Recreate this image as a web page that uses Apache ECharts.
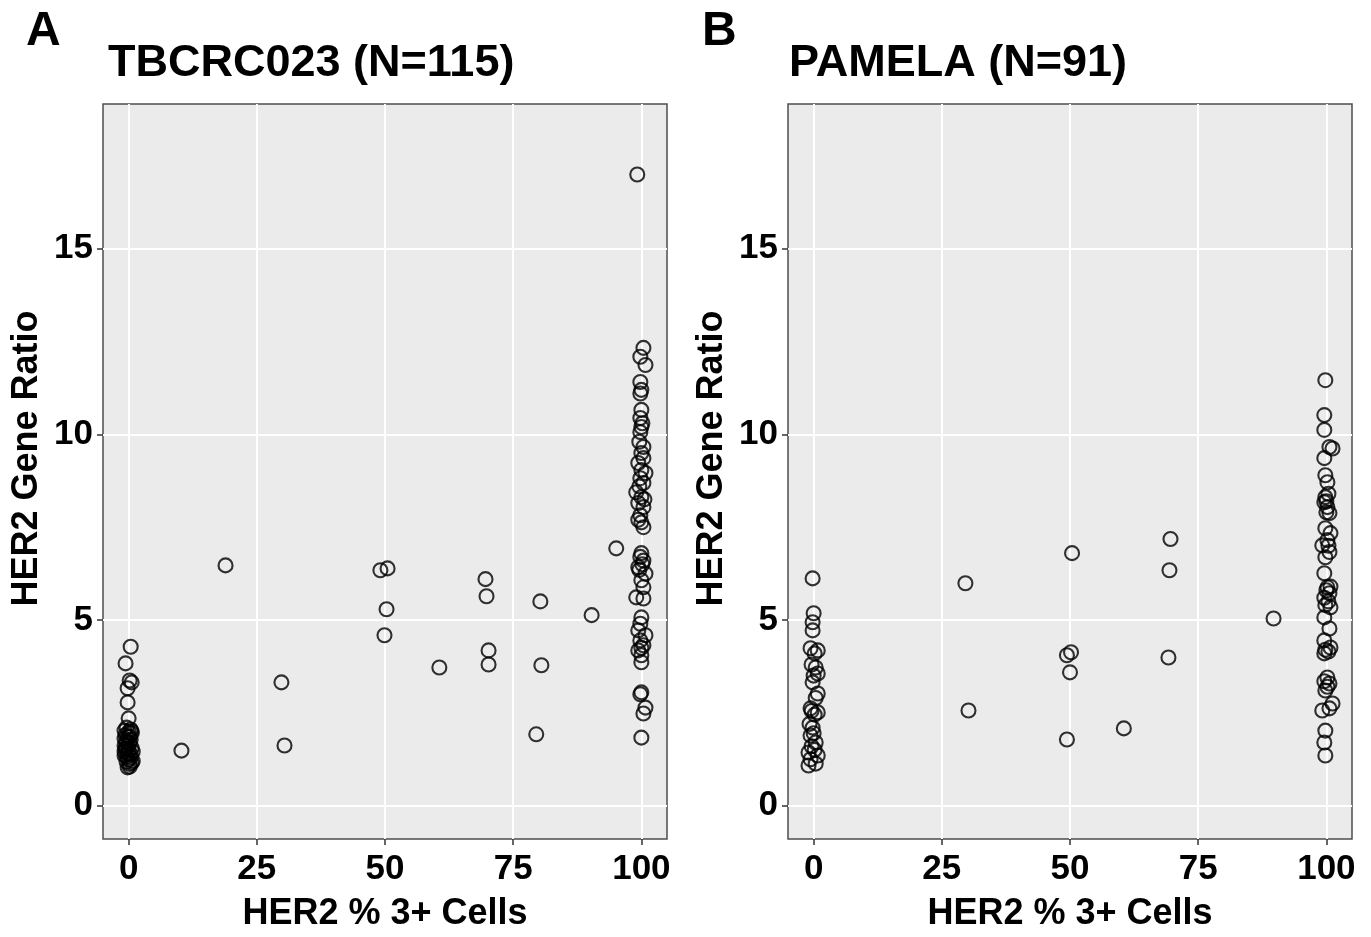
<!DOCTYPE html>
<html>
<head>
<meta charset="utf-8">
<title>HER2 gene ratio vs HER2 % 3+ cells</title>
<script src="https://cdn.jsdelivr.net/npm/echarts@6/dist/echarts.min.js"></script>
<style>
    html, body { margin: 0; padding: 0; background: #ffffff; }
    #chart { width: 1371px; height: 937px; }
</style>
</head>
<body>
<div id="chart"></div>
<script>
// tick labels shared by both panels
var xTicks = [0, 25, 50, 75, 100];
var yTicks = [0, 5, 10, 15];

// TBCRC023: [HER2 % 3+ cells (jittered), HER2 gene ratio]
var tbcrcZero = [
    [0.4, 4.28], [-0.6, 3.83], [0.2, 3.37], [0.6, 3.32], [-0.2, 3.16], [-0.2, 2.78], [0.0, 2.35],
    [-0.4, 2.10], [0.4, 2.05], [-0.8, 2.02], [0.0, 1.98], [0.6, 1.95], [-0.6, 1.90], [0.2, 1.85],
    [-0.8, 1.80], [0.4, 1.78], [-0.4, 1.72], [0.2, 1.68], [-0.8, 1.62], [-0.2, 1.60], [0.6, 1.55],
    [-0.6, 1.52], [0.0, 1.50], [-0.8, 1.45], [0.8, 1.45], [-0.2, 1.40], [0.4, 1.38], [-0.8, 1.35],
    [-0.4, 1.32], [0.4, 1.30], [0.0, 1.25], [0.8, 1.20], [-0.4, 1.18], [0.6, 1.15], [0.2, 1.12],
    [0.2, 1.05], [-0.2, 1.03], [-0.6, 1.55], [-0.2, 1.85], [0.6, 2.00]
];
var tbcrcMid = [
    [18.9, 6.47], [10.3, 1.48], [29.8, 3.32], [30.4, 1.62], [49.1, 6.34], [50.5, 6.39],
    [50.3, 5.29], [49.9, 4.59], [60.6, 3.72], [69.6, 6.10], [69.8, 5.64], [70.2, 4.18],
    [70.2, 3.80], [80.3, 5.50], [80.5, 3.78], [79.5, 1.92], [90.3, 5.13], [95.1, 6.93]
];
var tbcrcFull = [
    [99.2, 17.0], [100.4, 12.33], [99.8, 12.09], [100.8, 11.87], [99.8, 11.41], [100.0, 11.2],
    [100.0, 10.66], [99.8, 10.44], [100.0, 10.2], [99.8, 10.06], [100.4, 9.66], [100.0, 9.5],
    [100.4, 9.36], [99.4, 9.23], [100.0, 9.04], [100.8, 8.96], [99.8, 8.82], [100.4, 8.69],
    [99.0, 8.44], [100.0, 8.31], [99.4, 8.15], [100.4, 8.04], [99.8, 7.82], [100.0, 7.63],
    [100.4, 7.5], [100.0, 6.8], [100.4, 6.6], [99.4, 6.42], [100.8, 6.25], [100.0, 6.07],
    [100.4, 5.88], [99.0, 5.61], [100.4, 5.58], [100.0, 5.07], [99.4, 4.72], [100.8, 4.59],
    [99.8, 4.45], [100.4, 4.32], [99.4, 4.18], [100.0, 4.05], [100.0, 3.86], [100.0, 3.05],
    [100.8, 2.64], [100.4, 2.48], [100.0, 1.83], [99.8, 11.1], [100.2, 10.3], [99.6, 9.8],
    [99.6, 8.6], [100.6, 8.25], [99.4, 7.7], [99.8, 6.7], [100.2, 6.5], [99.6, 6.35],
    [99.8, 4.9], [100.0, 4.25], [99.8, 3.0]
];

// PAMELA
var pamelaZero = [
    [-0.2, 6.12], [0.0, 5.18], [-0.2, 4.94], [-0.2, 4.72], [-0.6, 4.24], [0.8, 4.18], [0.4, 3.72],
    [0.8, 3.56], [-0.2, 3.32], [0.8, 3.02], [-0.6, 2.62], [0.8, 2.51], [-0.2, 2.1], [-0.6, 1.89],
    [0.4, 1.7], [-1.0, 1.43], [0.8, 1.35], [-1.0, 1.08], [0.4, 1.13], [0.2, 4.1], [-0.4, 3.8],
    [0.0, 3.5], [0.4, 2.9], [-0.4, 2.55], [0.2, 2.45], [-0.8, 2.2], [0.0, 1.95], [-0.4, 1.6],
    [0.2, 1.5], [-0.6, 1.25]
];
var pamelaMid = [
    [29.6, 5.99], [30.2, 2.56], [50.4, 6.80], [49.4, 4.05], [50.2, 4.13], [50.0, 3.59],
    [49.4, 1.78], [60.5, 2.08], [69.6, 7.18], [69.4, 6.34], [69.2, 3.99], [89.7, 5.04]
];
var pamelaFull = [
    [99.8, 11.46], [99.6, 10.52], [99.6, 10.12], [100.6, 9.66], [101.2, 9.62], [99.6, 9.36],
    [99.8, 8.9], [100.2, 8.71], [99.8, 8.31], [99.6, 8.17], [100.2, 8.04], [100.6, 7.88],
    [99.8, 7.47], [100.8, 7.34], [100.2, 7.15], [99.2, 7.01], [100.6, 6.83], [99.8, 6.69],
    [99.6, 6.26], [100.2, 5.88], [100.6, 5.72], [99.8, 5.40], [100.8, 5.34], [99.6, 5.07],
    [100.6, 4.77], [99.6, 4.45], [100.8, 4.26], [99.6, 4.1], [100.2, 3.45], [100.6, 3.29],
    [99.8, 3.1], [101.2, 2.75], [99.2, 2.56], [100.6, 2.62], [99.8, 2.02], [99.6, 1.70],
    [99.8, 1.35], [100.4, 8.4], [100.0, 8.2], [100.4, 7.0], [99.6, 5.6], [100.4, 5.5],
    [100.0, 5.8], [99.8, 4.2], [100.4, 4.15], [100.2, 3.2], [99.6, 3.35], [100.0, 7.9],
    [100.8, 5.9]
];

var dom = document.getElementById('chart');
var myChart = echarts.init(dom, null, { renderer: 'canvas' });

var font = 'Liberation Sans, Arial, sans-serif';

function makeX(idx) {
    return {
        gridIndex: idx,
        type: 'value',
        min: -5,
        max: 105,
        name: 'HER2 % 3+ Cells',
        nameLocation: 'middle',
        nameGap: 57,
        nameTextStyle: { fontFamily: font, fontWeight: 'bold', fontSize: 36, color: '#000' },
        axisLine: { show: false, onZero: false },
        axisTick: { show: true, length: 6, customValues: xTicks, lineStyle: { color: '#333', width: 1.5 } },
        axisLabel: { customValues: xTicks, margin: 13, fontFamily: font, fontWeight: 'bold', fontSize: 35, color: '#000' },
        splitLine: { show: true, lineStyle: { color: '#ffffff', width: 2 } }
    };
}

function makeY(idx) {
    return {
        gridIndex: idx,
        type: 'value',
        min: -0.9,
        max: 18.9,
        name: 'HER2 Gene Ratio',
        nameLocation: 'middle',
        nameGap: 58,
        // ggplot title sits a little above the panel centre
        nameTextStyle: { fontFamily: font, fontWeight: 'bold', fontSize: 36, color: '#000', padding: [0, 0, 0, 26] },
        axisLine: { show: false, onZero: false },
        axisTick: { show: true, length: 6, customValues: yTicks, lineStyle: { color: '#333', width: 1.5 } },
        axisLabel: { customValues: yTicks, margin: 10, fontFamily: font, fontWeight: 'bold', fontSize: 35, color: '#000' },
        splitLine: { show: true, lineStyle: { color: '#ffffff', width: 2 } }
    };
}

function points(idx, data) {
    return {
        type: 'scatter',
        xAxisIndex: idx,
        yAxisIndex: idx,
        symbol: 'circle',
        symbolSize: 14,
        itemStyle: { color: 'rgba(0,0,0,0)', borderColor: '#000', borderWidth: 2.1 },
        data: data
    };
}

var option = {
    backgroundColor: '#ffffff',
    animation: false,
    title: [
        { text: 'A', left: 21, top: 3, textStyle: { fontFamily: font, fontWeight: 'bold', fontSize: 48, color: '#000' } },
        { text: 'TBCRC023 (N=115)', left: 103, top: 36, textStyle: { fontFamily: font, fontWeight: 'bold', fontSize: 45, color: '#000' } },
        { text: 'B', left: 697, top: 3, textStyle: { fontFamily: font, fontWeight: 'bold', fontSize: 48, color: '#000' } },
        { text: 'PAMELA (N=91)', left: 784, top: 36, textStyle: { fontFamily: font, fontWeight: 'bold', fontSize: 45, color: '#000' } }
    ],
    grid: [
        { left: 103, top: 104, width: 564, height: 735, show: true, backgroundColor: '#EBEBEB', borderColor: '#4d4d4d', borderWidth: 1.5 },
        { left: 788, top: 104, width: 564, height: 735, show: true, backgroundColor: '#EBEBEB', borderColor: '#4d4d4d', borderWidth: 1.5 }
    ],
    xAxis: [makeX(0), makeX(1)],
    yAxis: [makeY(0), makeY(1)],
    series: [
        points(0, tbcrcZero.concat(tbcrcMid, tbcrcFull)),
        points(1, pamelaZero.concat(pamelaMid, pamelaFull))
    ]
};

myChart.setOption(option);
window.addEventListener('resize', myChart.resize);
</script>
</body>
</html>
